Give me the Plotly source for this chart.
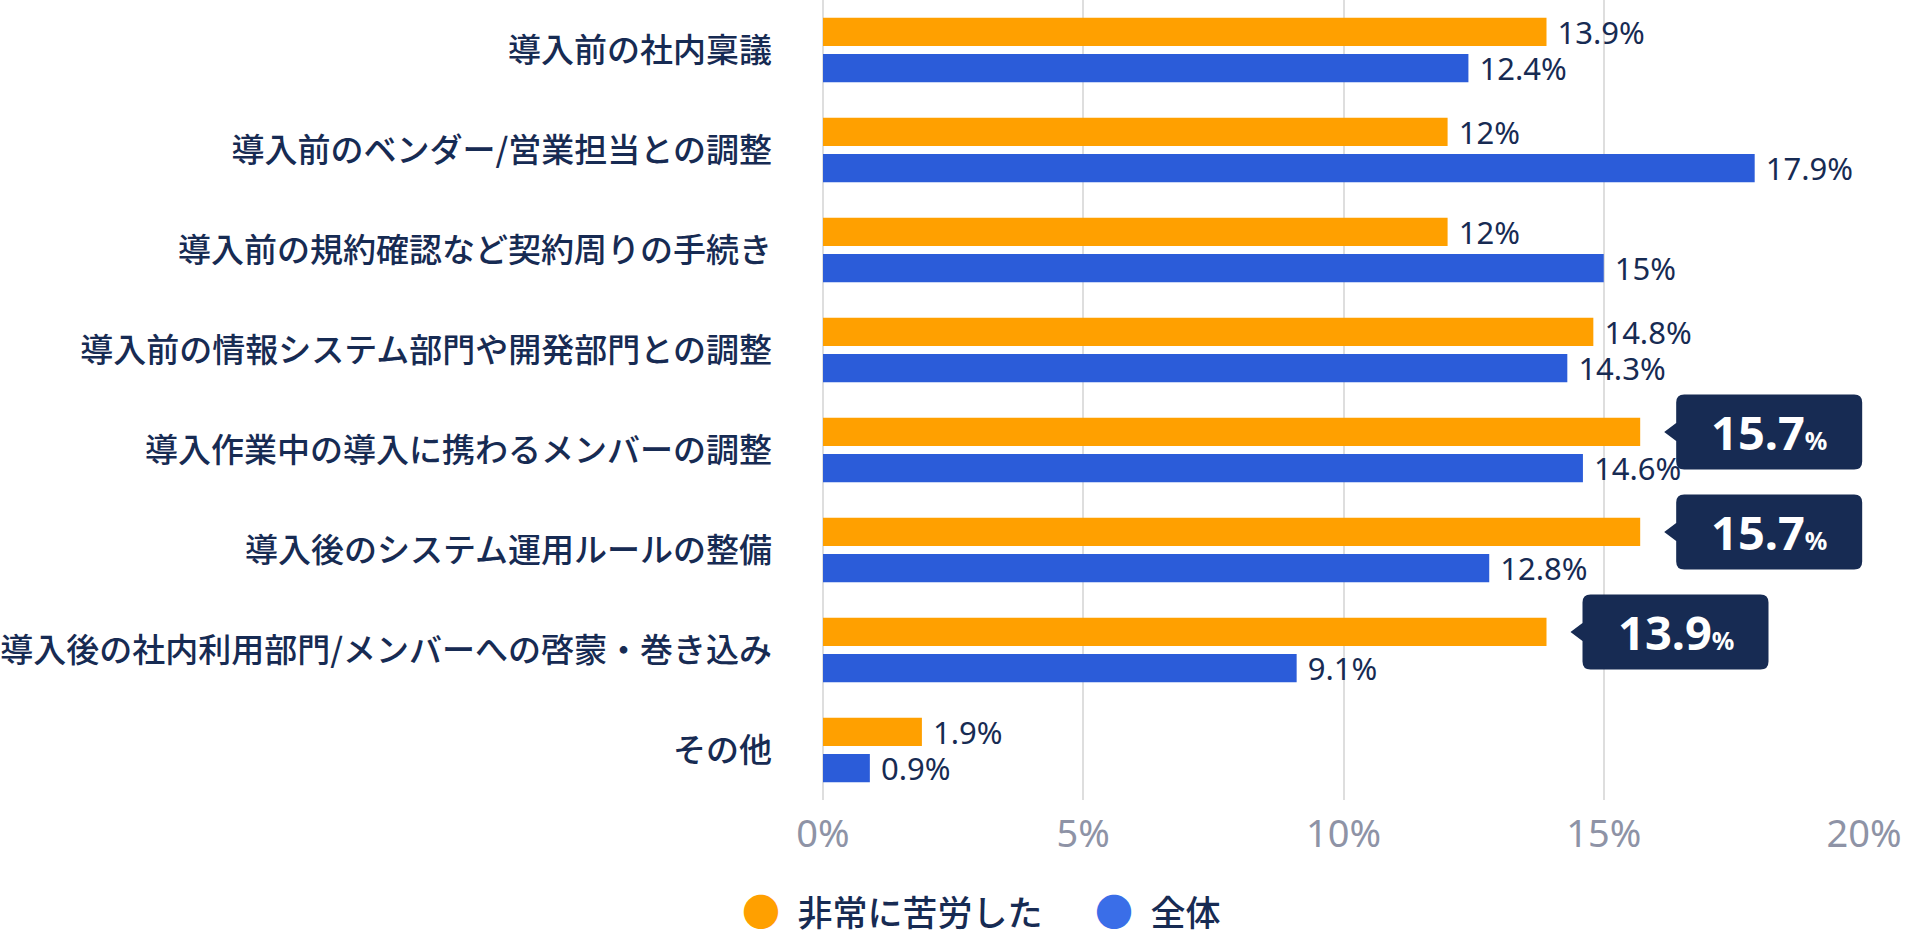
import plotly.graph_objects as go

categories = [
    "導入前の社内稟議",
    "導入前のベンダー/営業担当との調整",
    "導入前の規約確認など契約周りの手続き",
    "導入前の情報システム部門や開発部門との調整",
    "導入作業中の導入に携わるメンバーの調整",
    "導入後のシステム運用ルールの整備",
    "導入後の社内利用部門/メンバーへの啓蒙・巻き込み",
    "その他",
]
hard_values = [13.9, 12, 12, 14.8, 15.7, 15.7, 13.9, 1.9]
all_values = [12.4, 17.9, 15, 14.3, 14.6, 12.8, 9.1, 0.9]
highlight = [False, False, False, False, True, True, True, False]
series_names = ["非常に苦労した", "全体"]
x_ticks = [0, 5, 10, 15, 20]

ORANGE = "#FFA000"
BLUE = "#2B5CD9"
BLUE_LEGEND = "#3A6EE8"
NAVY = "#172B53"
GREY = "#8E93A6"
JP_FONT = "Noto Sans CJK JP"
NUM_FONT = "Noto Sans, Noto Sans CJK JP"

W, H = 1920, 936
M_L, M_R, M_T, M_B = 820, 56, 0, 136


def fmt(v):
    return f"\u00a0{v:g}%"


hard_text = ["" if h else fmt(v) for v, h in zip(hard_values, highlight)]
all_text = [fmt(v) for v in all_values]

fig = go.Figure()
fig.add_trace(go.Bar(
    y=categories, x=hard_values, orientation="h", name=series_names[0],
    marker=dict(color=ORANGE, line=dict(width=0)),
    text=hard_text, textposition="outside", cliponaxis=False,
    textfont=dict(family=NUM_FONT, size=31, color=NAVY),
    constraintext="none", showlegend=False,
))
fig.add_trace(go.Bar(
    y=categories, x=all_values, orientation="h", name=series_names[1],
    marker=dict(color=BLUE, line=dict(width=0)),
    text=all_text, textposition="outside", cliponaxis=False,
    textfont=dict(family=NUM_FONT, size=31, color=NAVY),
    constraintext="none", showlegend=False,
))

# callout bubbles on highlighted orange bars
bar_shift = 0.18
box_l, box_w, box_h, tip, rad, notch = 36, 186, 75, 24, 8, 9
hh = box_h / 2
bx1 = box_l + box_w
path = (
    f"M {box_l},{-hh + rad} L {box_l},{-notch} L {tip},0 L {box_l},{notch} "
    f"L {box_l},{hh - rad} Q {box_l},{hh} {box_l + rad},{hh} "
    f"L {bx1 - rad},{hh} Q {bx1},{hh} {bx1},{hh - rad} "
    f"L {bx1},{-hh + rad} Q {bx1},{-hh} {bx1 - rad},{-hh} "
    f"L {box_l + rad},{-hh} Q {box_l},{-hh} {box_l},{-hh + rad} Z"
)
for i, (v, h) in enumerate(zip(hard_values, highlight)):
    if not h:
        continue
    fig.add_shape(
        type="path", path=path, xref="x", yref="y",
        xsizemode="pixel", ysizemode="pixel",
        xanchor=v, yanchor=i - bar_shift,
        fillcolor=NAVY, line=dict(width=0), layer="above",
    )
    fig.add_annotation(
        x=v, y=i - bar_shift, xref="x", yref="y",
        xshift=box_l + box_w / 2, showarrow=False,
        xanchor="center", yanchor="middle",
        text=f"<b>{v:g}<span style='font-size:25px'>%</span></b>",
        font=dict(family=NUM_FONT, size=47, color="white"),
    )

# legend drawn as text, placed below the plot area
legend_text = (
    f"<span style='color:{ORANGE};font-size:38px'>●</span>\u2002{series_names[0]}"
    f"\u3000\u2002<span style='color:{BLUE_LEGEND};font-size:38px'>●</span>\u2002{series_names[1]}"
)
fig.add_annotation(
    x=(979 - M_L) / (W - M_L - M_R),
    y=-(909 - (H - M_B)) / (H - M_T - M_B),
    xref="paper", yref="paper",
    showarrow=False, xanchor="center", yanchor="middle",
    text=legend_text, font=dict(family=JP_FONT, size=35, color=NAVY, weight=500),
)

fig.update_layout(
    width=W, height=H,
    margin=dict(l=M_L, r=M_R, t=M_T, b=M_B, pad=0),
    paper_bgcolor="white", plot_bgcolor="white",
    barmode="group", bargap=0.277, bargroupgap=0.222,
    font=dict(family=JP_FONT, color=NAVY),
)
fig.update_xaxes(
    range=[0, 20], tickvals=x_ticks, ticktext=[f"{t}%" for t in x_ticks],
    showgrid=True, gridcolor="#DEDEDE", gridwidth=2,
    zeroline=True, zerolinecolor="#DEDEDE", zerolinewidth=2,
    showline=False, ticks="", ticklabelstandoff=8,
    tickfont=dict(family=NUM_FONT, size=38, color=GREY),
    fixedrange=True,
)
fig.update_yaxes(
    autorange="reversed", showgrid=False, showline=False, ticks="",
    ticklabelstandoff=50,
    tickfont=dict(family=JP_FONT, size=33, color=NAVY, weight=500),
    fixedrange=True,
)

fig.write_html(
    "out.html",
    config={"displayModeBar": False},
    post_script="document.body.style.margin = '0';",
)
